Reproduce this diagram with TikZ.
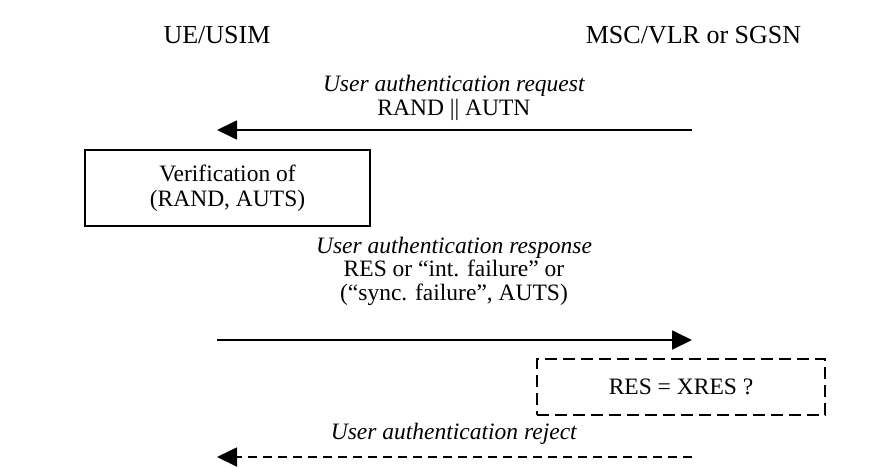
\documentclass[tikz,border=0pt]{standalone}
\usepackage{fontspec}
\setmainfont{Liberation Serif}
\usetikzlibrary{arrows.meta}
\begin{document}
\begin{tikzpicture}[x=1pt,y=-1pt,
  lbl/.style={font=\fontsize{23.5}{23.5}\selectfont, inner sep=0pt, align=center},
  hdr/.style={font=\fontsize{26}{27}\selectfont, inner sep=0pt},
  msg/.style={line width=1.8pt, -{Triangle[length=20pt,width=19pt]}},
  dmsg/.style={msg, dash pattern=on 9pt off 6pt},
  procbox/.style={draw, line width=1.8pt},
  dprocbox/.style={draw, line width=1.8pt, dash pattern=on 12pt off 6pt}]
\useasboundingbox (0,0) rectangle (888,467);
\node[hdr] (ue) at (217,35) {UE/USIM};
\node[hdr] (msc) at (693.5,35) {MSC/VLR or SGSN};
\coordinate (r1) at (692,130);
\coordinate (l1) at (217,130);
\node[lbl] (m1) at (454,98) {\textit{User authentication request}\\RAND || AUTN};
\draw[msg] (r1) -- (l1);
\node[procbox, minimum width=285pt, minimum height=76pt, lbl] (ver) at (227.5,188) {Verification of\\[1pt](RAND, AUTS)};
\coordinate (l2) at (217,340);
\coordinate (r2) at (692,340);
\node[lbl] (m2) at (454,271) {\textit{User authentication response}\\RES or “int. failure” or\\(“sync. failure”, AUTS)};
\draw[msg] (l2) -- (r2);
\node[dprocbox, minimum width=288pt, minimum height=56pt, lbl] (chk) at (681,387) {RES = XRES ?};
\coordinate (r3) at (692,457);
\coordinate (l3) at (217,457);
\node[lbl] (m3) at (454,434) {\textit{User authentication reject}};
\draw[dmsg] (r3) -- (l3);
\end{tikzpicture}
\end{document}
